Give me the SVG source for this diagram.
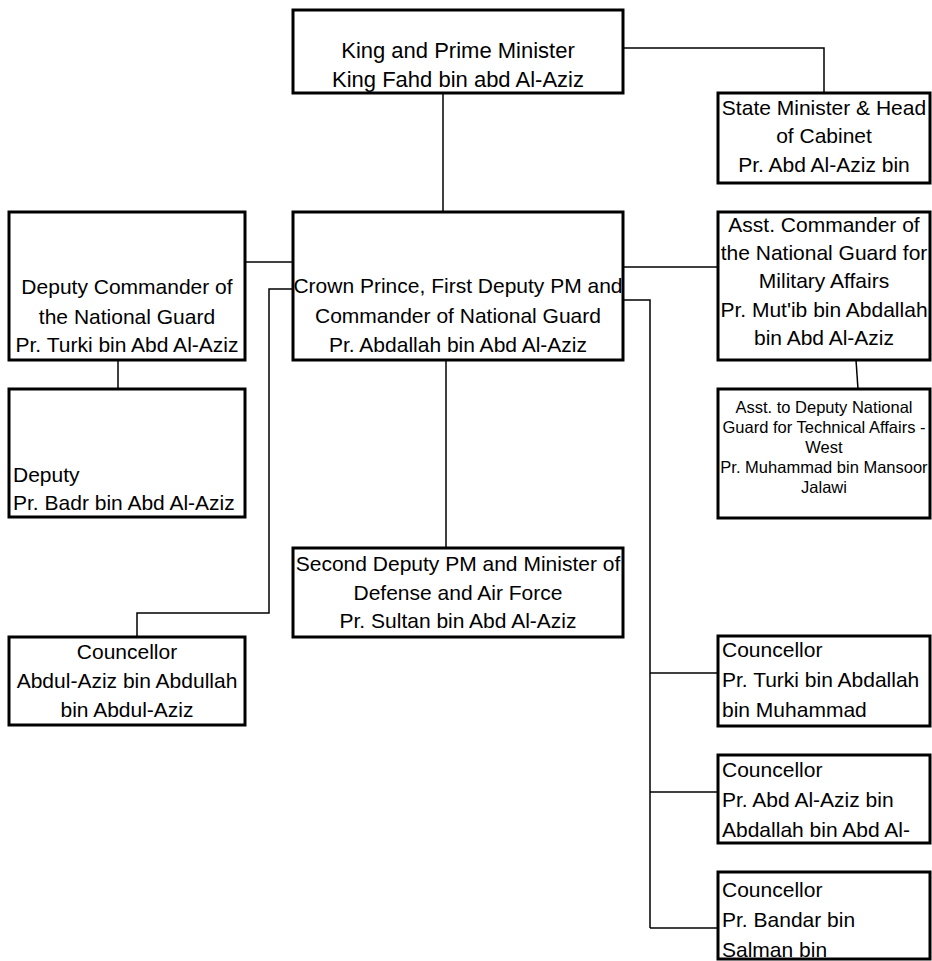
<svg xmlns="http://www.w3.org/2000/svg" width="932" height="961" viewBox="0 0 932 961">
<style>
.box{fill:#fff;stroke:#000;stroke-width:3}
.t{font-family:"Liberation Sans",Arial,sans-serif;font-size:21px;fill:#000}
.s{font-family:"Liberation Sans",Arial,sans-serif;font-size:16.5px;fill:#000}
.c{text-anchor:middle}
.conn{fill:none;stroke:#000;stroke-width:1.5}
</style>
<rect width="932" height="961" fill="#fff"/>
<g id="connectors" class="conn">
<path d="M623 48H824V93"/>
<path d="M443 93V212"/>
<path d="M244 262H293"/>
<path d="M293 289H269V613H137V637"/>
<path d="M118 360V390"/>
<path d="M623 267H718"/>
<path d="M623 300H650V928"/>
<path d="M856 360L858 389"/>
<path d="M446 360V548"/>
<path d="M650 673H718"/>
<path d="M650 792H718"/>
<path d="M650 928H718"/>
</g>
<g id="king">
<rect class="box" x="293" y="10" width="330" height="83"/>
<text class="t c" x="458" y="58" style="font-size:22px">King and Prime Minister</text>
<text class="t c" x="458" y="87" style="font-size:22px">King Fahd bin abd Al-Aziz</text>
</g>
<g id="state-minister">
<rect class="box" x="718" y="93" width="212" height="90"/>
<text class="t c" x="824" y="115">State Minister &amp; Head</text>
<text class="t c" x="824" y="143">of Cabinet</text>
<text class="t c" x="824" y="172">Pr. Abd Al-Aziz bin</text>
</g>
<g id="deputy-commander">
<rect class="box" x="9" y="212" width="236" height="148"/>
<text class="t c" x="127" y="294">Deputy Commander of</text>
<text class="t c" x="127" y="324">the National Guard</text>
<text class="t c" x="127" y="352">Pr. Turki bin Abd Al-Aziz</text>
</g>
<g id="crown-prince">
<rect class="box" x="293" y="212" width="330" height="148"/>
<text class="t c" x="458" y="293">Crown Prince, First Deputy PM and</text>
<text class="t c" x="458" y="323">Commander of National Guard</text>
<text class="t c" x="458" y="352">Pr. Abdallah bin Abd Al-Aziz</text>
</g>
<g id="asst-commander">
<rect class="box" x="718" y="212" width="212" height="148"/>
<text class="t c" x="824" y="232">Asst. Commander of</text>
<text class="t c" x="824" y="260">the National Guard for</text>
<text class="t c" x="824" y="288">Military Affairs</text>
<text class="t c" x="824" y="317">Pr. Mut'ib bin Abdallah</text>
<text class="t c" x="824" y="345">bin Abd Al-Aziz</text>
</g>
<g id="deputy">
<rect class="box" x="9" y="389" width="236" height="128"/>
<text class="t" x="13" y="482">Deputy</text>
<text class="t" x="13" y="510">Pr. Badr bin Abd Al-Aziz</text>
</g>
<g id="asst-to-deputy">
<rect class="box" x="718" y="389" width="212" height="129"/>
<text class="s c" x="824" y="413">Asst. to Deputy National</text>
<text class="s c" x="824" y="433">Guard for Technical Affairs -</text>
<text class="s c" x="824" y="453">West</text>
<text class="s c" x="824" y="473">Pr. Muhammad bin Mansoor</text>
<text class="s c" x="824" y="493">Jalawi</text>
</g>
<g id="second-deputy">
<rect class="box" x="293" y="548" width="330" height="89"/>
<text class="t c" x="458" y="571">Second Deputy PM and Minister of</text>
<text class="t c" x="458" y="600">Defense and Air Force</text>
<text class="t c" x="458" y="628">Pr. Sultan bin Abd Al-Aziz</text>
</g>
<g id="councellor-abdulaziz">
<rect class="box" x="9" y="637" width="236" height="88"/>
<text class="t c" x="127" y="659">Councellor</text>
<text class="t c" x="127" y="688">Abdul-Aziz bin Abdullah</text>
<text class="t c" x="127" y="717">bin Abdul-Aziz</text>
</g>
<g id="councellor-turki">
<rect class="box" x="718" y="636" width="212" height="90"/>
<text class="t" x="722" y="657">Councellor</text>
<text class="t" x="722" y="687">Pr. Turki bin Abdallah</text>
<text class="t" x="722" y="717">bin Muhammad</text>
</g>
<g id="councellor-abd-al-aziz">
<rect class="box" x="718" y="755" width="212" height="88"/>
<text class="t" x="722" y="777">Councellor</text>
<text class="t" x="722" y="807">Pr. Abd Al-Aziz bin</text>
<text class="t" x="722" y="837">Abdallah bin Abd Al-</text>
</g>
<g id="councellor-bandar">
<rect class="box" x="718" y="872" width="212" height="87"/>
<text class="t" x="722" y="897">Councellor</text>
<text class="t" x="722" y="927">Pr. Bandar bin</text>
<text class="t" x="722" y="957">Salman bin</text>
</g>
</svg>
